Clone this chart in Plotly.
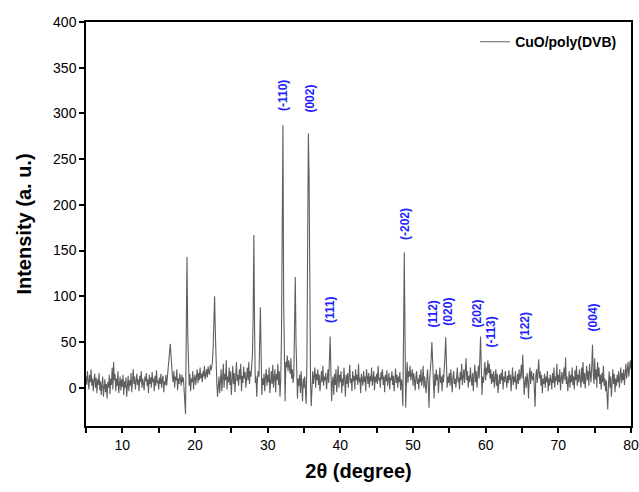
import numpy as np
import plotly.graph_objects as go

# 2-theta from 5.0 to 80.0 in 0.1 degree steps (751 points)
two_theta_start = 5.0
two_theta_step = 0.1

intensity = [
    12, 3, 18, 8, -2, 14, 6, 20, 2, 10,          # 5
    -4, 8, 15, 0, 11, -6, 9, 3, 16, -3,          # 6
    7, -8, 5, 12, -10, 2, 9, -5, 4, -12,         # 7
    6, 0, 14, -7, 10, 3, 22, -2, 28, 8,          # 8
    15, -4, 10, 2, 18, -6, 6, 12, -3, 9,         # 9
    1, 14, -8, 7, 0, 11, -10, 5, 13, -4,         # 10
    8, 2, 16, -5, 10, 20, 4, 12, -2, 7,          # 11
    15, 3, 9, -4, 13, 6, 18, 0, 10, 5,           # 12
    -3, 12, 7, 16, 2, 9, -6, 14, 4, 11,          # 13
    0, 17, 6, 10, -4, 13, 2, 19, 5, 8,           # 14
    -2, 11, 4, 15, 0, 9, 13, -5, 7, 3,           # 15
    14, 2, 10, 18, 26, 38, 48, 35, 20, 12,       # 16
    6, 18, 0, 12, 8, 20, -3, 10, 4, 15,          # 17
    9, 2, 14, 6, 11, -2, -8, -29, 65, 143,       # 18
    58, 12, 2, 15, -4, 10, 6, 18, -2, 9,         # 19
    14, 3, 11, 20, 5, 16, 8, 22, 10, 15,         # 20
    6, 18, 12, 24, 9, 16, 20, 11, 23, 17,        # 21
    14, 25, 19, 22, 28, 45, 75, 100, 60, 22,     # 22
    5, -10, 2, 12, -6, 8, 20, -4, 10, 26,        # 23
    0, 15, 8, 30, -2, 12, 6, 22, 3, 18,          # 24
    -8, 10, 24, 4, 16, -5, 12, 28, 7, 14,        # 25
    2, 20, 9, 26, -4, 13, 5, 23, 10, 17,         # 26
    0, 15, 22, 8, 28, 4, 18, 12, 25, 35,         # 27
    75, 167, 65, 5, 12, -10, 10, 18, 12, 45,     # 28
    88, 35, -8, 10, 3, 15, -4, 12, 20, 2,        # 29
    14, 6, 22, -6, 9, 18, 4, 25, 0, 12,          # 30
    20, -5, 15, 8, 26, 3, 18, -10, 10, 55,       # 31
    195, 287, 95, 10, -15, 28, 22, 35, 18, 30,   # 32
    25, 15, 32, 10, 20, 5, 14, 60, 121, 50,      # 33
    8, -12, 10, 2, 14, -6, 18, 5, -15, 10,       # 34
    0, 12, -8, -18, 30, 140, 278, 230, 60, 5,    # 35
    -20, 10, 18, 4, 12, 22, 0, 15, 8, 20,        # 36
    3, 14, -4, 10, 18, 6, 24, 2, 12, 8,          # 37
    16, -2, 10, 20, 5, 28, 56, 20, -15, 6,       # 38
    12, -8, 15, 3, 20, -5, 10, 24, 0, 14,        # 39
    6, 18, -6, 10, 2, 22, 8, -10, 14, 4,         # 40
    16, 0, 12, 25, 5, 10, -4, 18, 7, 13,         # 41
    -2, 20, 8, 14, 3, 26, 6, 11, -6, 15,         # 42
    9, 2, 18, 6, 12, -4, 20, 10, 4, 16,          # 43
    0, 13, 7, 22, 2, 10, 18, -3, 12, 6,          # 44
    15, 4, 24, 8, 11, 0, 17, 9, 20, 3,           # 45
    12, -5, 14, 7, 19, 2, 10, 16, -2, 11,        # 46
    8, 18, 3, 13, -4, 10, 21, 5, 14, 0,          # 47
    12, 6, 17, -3, 9, 2, -20, 55, 148, 60,       # 48
    -22, 10, 28, 5, 18, 12, 24, 8, 16, 20,       # 49
    2, 16, 8, -3, 12, 18, 4, 10, -2, 14,         # 50
    6, 20, 2, 9, 24, 0, 12, 4, -6, 8,            # 51
    20, 4, -22, 10, 18, 32, 50, 28, 8, -12,      # 52
    15, 2, 20, 8, 14, -6, 10, 22, 5, 12,         # 53
    -4, 14, 6, 18, 35, 55, 22, 0, 12, 5,         # 54
    16, 2, 20, 8, -5, 12, 18, 4, 10, 0,          # 55
    14, 22, 6, 11, -2, 17, 8, 26, 3, 12,         # 56
    20, 5, 15, 32, 8, 18, 0, 13, 6, 22,          # 57
    10, 2, 16, -4, 12, 25, 6, 18, 0, 15,         # 58
    24, 10, 30, 56, 20, -8, 12, 5, 18, 28,       # 59
    8, 22, 14, 30, 16, 26, 10, 20, 4, 15,        # 60
    6, 18, 0, 12, 20, 2, 15, -6, 10, 14,         # 61
    4, 16, 8, 20, -2, 12, 6, 18, 10, 0,          # 62
    13, 5, 19, 8, 14, -4, 10, 22, 3, 12,         # 63
    6, 18, -2, 11, 15, 4, 20, 8, 13, 25,         # 64
    10, 36, 15, -8, 5, 12, 0, 16, 8, -12,        # 65
    14, 22, 4, 18, 10, 8, 16, 0, -21, 12,        # 66
    20, 5, 28, 31, 10, 18, 2, 14, -6, 10,        # 67
    4, 15, 0, 12, 6, 18, -4, 10, 2, 14,          # 68
    8, -2, 16, 5, 22, 0, 12, 7, 26, 3,           # 69
    14, 6, 20, -3, 10, 17, 4, 12, 22, 8,         # 70
    33, 4, 12, -4, 9, 18, 0, 14, 6, 22,          # 71
    3, 12, -2, 19, 8, 24, 2, 14, 6, 20,          # 72
    10, 0, 22, 6, 28, 4, 16, -1, 12, 24,         # 73
    8, 18, 2, 26, 14, 6, 24, 47, 16, 4,          # 74
    32, 9, 20, 0, 28, 12, 22, 4, 14, -2,         # 75
    16, 6, 24, 2, 10, -4, 8, -10, -24, 4,        # 76
    18, 0, 12, -10, 8, 20, 4, 15, -5, 10,        # 77
    2, 14, 6, 18, 0, 10, 22, 5, 16, 8,           # 78
    20, 3, 15, 26, 10, 18, 28, 12, 22, 30,       # 79
    20,                                          # 80
]

two_theta = [round(two_theta_start + i * two_theta_step, 1) for i in range(len(intensity))]

hkl_labels = ["(-110)", "(002)", "(111)", "(-202)", "(112)", "(020)",
              "(202)", "(-113)", "(122)", "(004)"]
hkl_x = [32.1, 35.8, 38.6, 48.9, 52.75, 54.8, 58.8, 60.7, 65.5, 74.8]
hkl_y = [320, 316, 85, 179, 81, 83, 81, 61, 67, 77]

series_name = "CuO/poly(DVB)"

FONT = "Liberation Sans, Arial, sans-serif"

fig = go.Figure()
fig.add_trace(go.Scatter(
    x=two_theta, y=intensity, mode="lines", name="<b>%s</b>" % series_name,
    line=dict(color="#5f5f5f", width=1.1),
))

for lab, xx, yy in zip(hkl_labels, hkl_x, hkl_y):
    fig.add_annotation(
        x=xx, y=yy, text="<b>%s</b>" % lab, textangle=-90, showarrow=False,
        font=dict(family=FONT, size=12, color="#1f1fff"),
        xanchor="center", yanchor="middle",
    )

axis_common = dict(
    showline=True, linecolor="black", linewidth=1.5, mirror=True,
    ticks="outside", ticklen=5, tickwidth=1.5, tickcolor="black",
    showgrid=False, zeroline=False, automargin=False,
    tickfont=dict(family=FONT, size=14, color="black"),
)

fig.update_layout(
    width=639, height=492,
    margin=dict(l=86, r=8, t=22, b=66),
    paper_bgcolor="white", plot_bgcolor="white",
    showlegend=True,
    legend=dict(
        x=0.714, y=0.95, xanchor="left", yanchor="middle",
        bgcolor="rgba(0,0,0,0)", borderwidth=0,
        font=dict(family=FONT, size=14, color="black"),
        itemwidth=30,
    ),
    xaxis=dict(
        range=[5, 80], tick0=0, dtick=10,
        minor=dict(ticks="outside", ticklen=5, tickwidth=1.5, tickcolor="black", dtick=5, tick0=5),
        title=dict(text="<b>2θ (degree)</b>", font=dict(family=FONT, size=20, color="black"), standoff=12),
        **axis_common,
    ),
    yaxis=dict(
        range=[-42, 400], tick0=0, dtick=50,
        title=dict(text="<b>Intensity (a. u.)</b>", font=dict(family=FONT, size=20, color="black"), standoff=16),
        **axis_common,
    ),
)

fig.write_html(
    "out.html",
    config={"displayModeBar": False},
    post_script="document.body.style.margin='0';document.body.style.overflow='hidden';",
)
